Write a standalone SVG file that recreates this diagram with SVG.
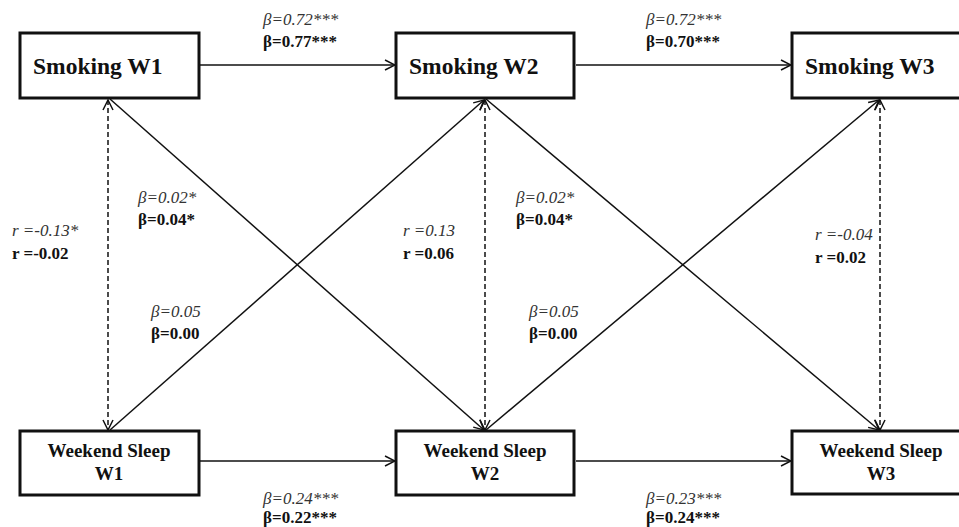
<svg xmlns="http://www.w3.org/2000/svg" width="959" height="527" viewBox="0 0 959 527">
<defs>
<marker id="arr" viewBox="0 0 12 12" refX="11" refY="6" markerWidth="12" markerHeight="12" markerUnits="userSpaceOnUse" orient="auto-start-reverse">
<path d="M1,1 L11,6 L1,11" fill="none" stroke="#111" stroke-width="1.5"/>
</marker>
</defs>
<style>
.box{fill:#fff;stroke:#111;stroke-width:3}
.nt{font-family:"Liberation Serif","Times New Roman",serif;font-weight:bold;fill:#111}
.big{font-size:23.5px}
.sm{font-size:19px}
.ln{stroke:#111;stroke-width:1.5;fill:none}
.ds{stroke:#111;stroke-width:1.5;fill:none;stroke-dasharray:5,3}
.it{font-family:"Liberation Serif","Times New Roman",serif;font-style:italic;font-size:17px;fill:#333}
.bd{font-family:"Liberation Serif","Times New Roman",serif;font-weight:bold;font-size:17px;fill:#111}
</style>
<rect width="959" height="527" fill="#fff"/>
<g id="connectors">
<line class="ln" x1="200" y1="65" x2="395" y2="65" marker-end="url(#arr)"/>
<line class="ln" x1="576" y1="65" x2="791" y2="65" marker-end="url(#arr)"/>
<line class="ln" x1="200" y1="461" x2="395" y2="461" marker-end="url(#arr)"/>
<line class="ln" x1="576" y1="461" x2="791" y2="461" marker-end="url(#arr)"/>
<line class="ds" x1="108" y1="100" x2="108" y2="430" marker-start="url(#arr)" marker-end="url(#arr)"/>
<line class="ds" x1="485" y1="100" x2="485" y2="430" marker-start="url(#arr)" marker-end="url(#arr)"/>
<line class="ds" x1="880" y1="100" x2="880" y2="430" marker-start="url(#arr)" marker-end="url(#arr)"/>
<line class="ln" x1="110" y1="99" x2="484" y2="430" marker-end="url(#arr)"/>
<line class="ln" x1="110" y1="430" x2="484" y2="100" marker-end="url(#arr)"/>
<line class="ln" x1="486" y1="99" x2="879" y2="430" marker-end="url(#arr)"/>
<line class="ln" x1="486" y1="430" x2="879" y2="100" marker-end="url(#arr)"/>
</g>
<g id="smoking-w1"><rect class="box" x="20" y="33" width="179" height="65"/><text class="nt big" x="33" y="74">Smoking W1</text></g>
<g id="smoking-w2"><rect class="box" x="396" y="33" width="178" height="65"/><text class="nt big" x="409" y="74">Smoking W2</text></g>
<g id="smoking-w3"><rect class="box" x="792" y="33" width="180" height="65"/><text class="nt big" x="805" y="74">Smoking W3</text></g>
<g id="sleep-w1"><rect class="box" x="20" y="431" width="179" height="64"/><text class="nt sm" text-anchor="middle" x="109" y="457">Weekend Sleep</text><text class="nt sm" text-anchor="middle" x="109" y="480">W1</text></g>
<g id="sleep-w2"><rect class="box" x="396" y="431" width="178" height="64"/><text class="nt sm" text-anchor="middle" x="485" y="457">Weekend Sleep</text><text class="nt sm" text-anchor="middle" x="485" y="480">W2</text></g>
<g id="sleep-w3"><rect class="box" x="792" y="431" width="180" height="63"/><text class="nt sm" text-anchor="middle" x="881" y="457">Weekend Sleep</text><text class="nt sm" text-anchor="middle" x="881" y="480">W3</text></g>
<g id="labels">
<text class="it" x="263" y="25">β=0.72***</text><text class="bd" x="263" y="47">β=0.77***</text>
<text class="it" x="646" y="25">β=0.72***</text><text class="bd" x="646" y="47">β=0.70***</text>
<text class="it" x="263" y="504">β=0.24***</text><text class="bd" x="263" y="523">β=0.22***</text>
<text class="it" x="646" y="504">β=0.23***</text><text class="bd" x="646" y="523">β=0.24***</text>
<text class="it" x="138" y="203">β=0.02*</text><text class="bd" x="138" y="225">β=0.04*</text>
<text class="it" x="516" y="203">β=0.02*</text><text class="bd" x="516" y="225">β=0.04*</text>
<text class="it" x="151" y="317">β=0.05</text><text class="bd" x="151" y="339">β=0.00</text>
<text class="it" x="529" y="317">β=0.05</text><text class="bd" x="529" y="339">β=0.00</text>
<text class="it" x="12" y="236">r =-0.13*</text><text class="bd" x="12" y="259">r =-0.02</text>
<text class="it" x="403" y="236">r =0.13</text><text class="bd" x="403" y="259">r =0.06</text>
<text class="it" x="815" y="240">r =-0.04</text><text class="bd" x="815" y="263">r =0.02</text>
</g>
</svg>
